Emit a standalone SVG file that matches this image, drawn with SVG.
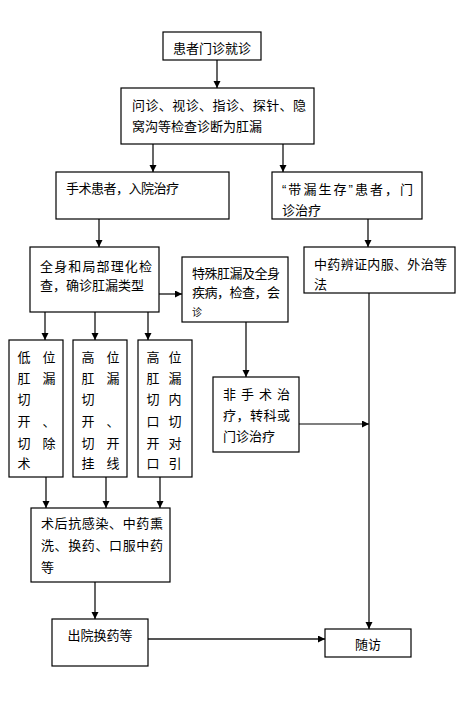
<svg xmlns="http://www.w3.org/2000/svg" width="466" height="710" viewBox="0 0 466 710">
<style>
rect{fill:#fff;stroke:#000;stroke-width:1.2}
text{font-family:"Liberation Sans","Noto Sans CJK SC",sans-serif;font-size:13px;fill:#000}
.c{text-anchor:middle}
.k{fill:none;stroke:#000;stroke-width:1.2;marker-end:url(#a)}
.g{fill:none;stroke:#555;stroke-width:1.8;marker-end:url(#a)}
</style>
<defs>
<marker id="a" markerUnits="userSpaceOnUse" markerWidth="8" markerHeight="8" refX="7" refY="3.5" orient="auto"><path d="M0,0 L7,3.5 L0,7 z" fill="#000"/></marker>
</defs>
<rect x="0" y="0" width="466" height="710" style="stroke:none"/>
<g id="connectors">
<path class="g" d="M217,60 V88"/>
<path class="k" d="M153,144 V172"/>
<path class="k" d="M283,144 V172"/>
<path class="k" d="M99,219 V247"/>
<path class="k" d="M368,219 V247"/>
<path class="g" d="M159,294 H182"/>
<path class="k" d="M45,312 V340"/>
<path class="g" d="M95,312 V340"/>
<path class="g" d="M148,312 V340"/>
<path class="g" d="M246,322 V377"/>
<path class="k" d="M299,424 H369"/>
<path class="k" d="M369,293 V629"/>
<path class="g" d="M46,477 V508"/>
<path class="g" d="M106,477 V508"/>
<path class="g" d="M160,477 V508"/>
<path class="g" d="M95,582 V619"/>
<path class="g" d="M148,639 H325"/>
</g>
<g id="n1"><rect x="163" y="32" width="98" height="28"/><text class="c" x="212" y="53">患者门诊就诊</text></g>
<g id="n2"><rect x="121" y="88" width="193" height="56"/><text x="132" y="110" textLength="174">问诊、视诊、指诊、探针、隐</text><text x="132" y="131">窝沟等检查诊断为肛漏</text></g>
<g id="n3"><rect x="56" y="172" width="173" height="47"/><text x="66" y="193" textLength="113">手术患者，入院治疗</text></g>
<g id="n4"><rect x="272" y="172" width="150" height="47"/><text x="282" y="194" textLength="131">“带漏生存”患者，门</text><text x="282" y="215">诊治疗</text></g>
<g id="n5"><rect x="30" y="247" width="129" height="65"/><text x="40" y="271" textLength="112">全身和局部理化检</text><text x="40" y="290">查，确诊肛漏类型</text></g>
<g id="n6"><rect x="182" y="257" width="106" height="65"/><text x="192" y="278" textLength="88">特殊肛漏及全身</text><text x="192" y="297" textLength="88">疾病，检查，会</text><text x="192" y="316" style="font-size:10px">诊</text></g>
<g id="n7"><rect x="304" y="247" width="151" height="46"/><text x="314" y="269" textLength="133">中药辨证内服、外治等</text><text x="314" y="289">法</text></g>
<g id="n8"><rect x="9" y="340" width="54" height="137"/>
<text class="c" x="24" y="362">低</text><text class="c" x="49" y="362">位</text>
<text class="c" x="24" y="383">肛</text><text class="c" x="49" y="383">漏</text>
<text class="c" x="24" y="404">切</text>
<text class="c" x="24" y="426">开</text><text class="c" x="49" y="426">、</text>
<text class="c" x="24" y="448">切</text><text class="c" x="49" y="448">除</text>
<text class="c" x="24" y="468">术</text></g>
<g id="n9"><rect x="73" y="340" width="54" height="137"/>
<text class="c" x="88" y="362">高</text><text class="c" x="113" y="362">位</text>
<text class="c" x="88" y="383">肛</text><text class="c" x="113" y="383">漏</text>
<text class="c" x="88" y="404">切</text>
<text class="c" x="88" y="426">开</text><text class="c" x="113" y="426">、</text>
<text class="c" x="88" y="448">切</text><text class="c" x="113" y="448">开</text>
<text class="c" x="88" y="468">挂</text><text class="c" x="113" y="468">线</text></g>
<g id="n10"><rect x="138" y="340" width="54" height="137"/>
<text class="c" x="153" y="362">高</text><text class="c" x="175" y="362">位</text>
<text class="c" x="153" y="383">肛</text><text class="c" x="175" y="383">漏</text>
<text class="c" x="153" y="404">切</text><text class="c" x="175" y="404">内</text>
<text class="c" x="153" y="426">口</text><text class="c" x="175" y="426">切</text>
<text class="c" x="153" y="448">开</text><text class="c" x="175" y="448">对</text>
<text class="c" x="153" y="468">口</text><text class="c" x="175" y="468">引</text></g>
<g id="n11"><rect x="213" y="377" width="86" height="75"/><text x="223" y="399" textLength="67">非手术治</text><text x="223" y="420" textLength="67">疗，转科或</text><text x="223" y="441">门诊治疗</text></g>
<g id="n12"><rect x="31" y="508" width="139" height="74"/><text x="41" y="528" textLength="122">术后抗感染、中药熏</text><text x="41" y="550" textLength="122">洗、换药、口服中药</text><text x="41" y="572">等</text></g>
<g id="n13"><rect x="52" y="619" width="96" height="47"/><text class="c" x="100" y="640">出院换药等</text></g>
<g id="n14"><rect x="325" y="629" width="86" height="28"/><text class="c" x="368" y="649">随访</text></g>
</svg>
